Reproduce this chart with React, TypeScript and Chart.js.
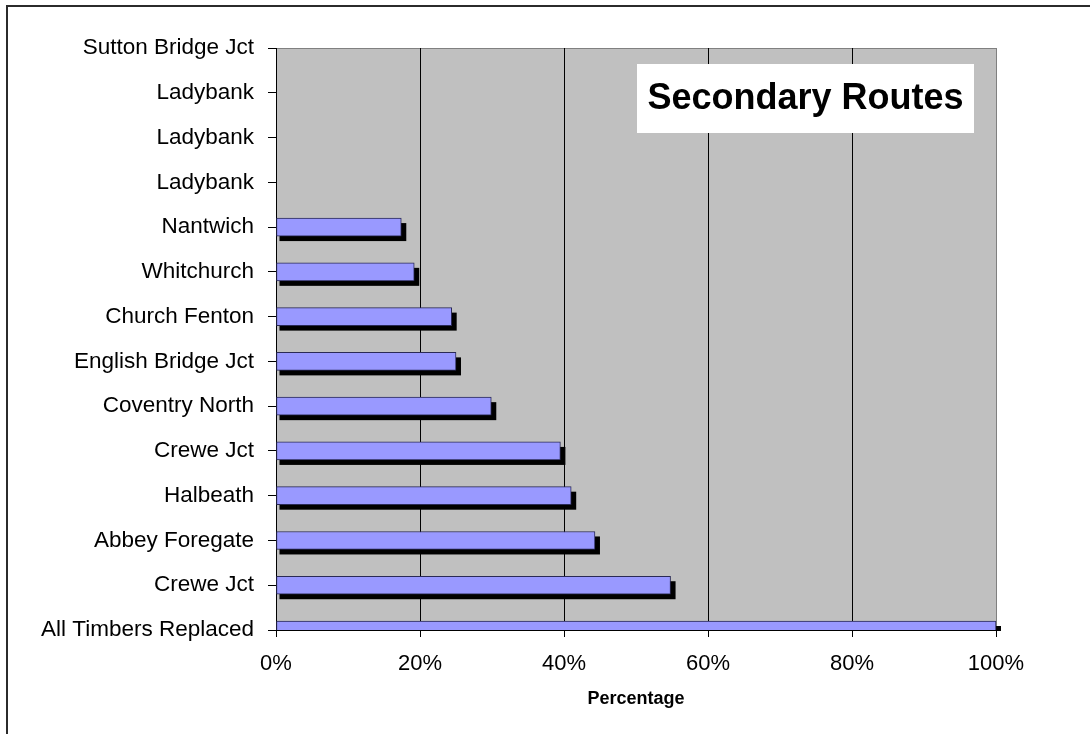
import React, { useEffect, useRef } from "react";
import { Chart, registerables } from "chart.js";

Chart.register(...registerables);

const categories = [
  "Sutton Bridge Jct",
  "Ladybank",
  "Ladybank",
  "Ladybank",
  "Nantwich",
  "Whitchurch",
  "Church Fenton",
  "English Bridge Jct",
  "Coventry North",
  "Crewe Jct",
  "Halbeath",
  "Abbey Foregate",
  "Crewe Jct",
  "All Timbers Replaced",
];
const percentages = [0, 0, 0, 0, 17.4, 19.2, 24.4, 25.0, 29.9, 39.5, 41.0, 44.3, 54.8, 100];
const xTicks = [0, 20, 40, 60, 80, 100];
const chartTitle = "Secondary Routes";
const xTitle = "Percentage";

const FONT = "'Liberation Sans', Arial, Helvetica, sans-serif";

const framePlugin = {
  id: "frame",
  beforeDraw(chart: any) {
    const { ctx, chartArea } = chart;
    ctx.save();
    ctx.fillStyle = "#ffffff";
    ctx.fillRect(0, 0, chart.width, chart.height);
    // outer border (top + left)
    ctx.fillStyle = "#2b2b2b";
    ctx.fillRect(6, 5, chart.width - 6, 2);
    ctx.fillRect(6, 5, 2, chart.height - 5);
    // plot area
    ctx.fillStyle = "#c0c0c0";
    ctx.fillRect(chartArea.left, chartArea.top, chartArea.right - chartArea.left, chartArea.bottom - chartArea.top);
    ctx.strokeStyle = "#808080";
    ctx.lineWidth = 1;
    ctx.strokeRect(chartArea.left + 0.5, chartArea.top + 0.5, chartArea.right - chartArea.left, chartArea.bottom - chartArea.top);
    ctx.restore();
  },
};

const shadowPlugin = {
  id: "barShadow",
  beforeDatasetsDraw(chart: any) {
    const { ctx, chartArea } = chart;
    const meta = chart.getDatasetMeta(0);
    ctx.save();
    ctx.beginPath();
    ctx.rect(chartArea.left, chartArea.top, chartArea.right - chartArea.left + 10, chartArea.bottom - chartArea.top + 1);
    ctx.clip();
    ctx.fillStyle = "#000000";
    meta.data.forEach((el: any, i: number) => {
      const v = percentages[i];
      if (!v) return;
      const { x, y, base, height } = el.getProps(["x", "y", "base", "height"], true);
      ctx.fillRect(base + 3, y - height / 2 + 5, x - base + 2, height);
    });
    ctx.restore();
  },
};

const titleBoxPlugin = {
  id: "titleBox",
  afterDatasetsDraw(chart: any) {
    const { ctx, chartArea } = chart;
    const w = 337;
    const h = 69;
    const x0 = chartArea.right - 22 - w;
    const y0 = chartArea.top + 16;
    ctx.save();
    ctx.fillStyle = "#ffffff";
    ctx.fillRect(x0, y0, w, h);
    ctx.fillStyle = "#000000";
    ctx.font = `bold 36px ${FONT}`;
    ctx.textAlign = "center";
    ctx.textBaseline = "middle";
    ctx.fillText(chartTitle, x0 + w / 2, y0 + h / 2 + 1);
    ctx.restore();
  },
};

export default function App() {
  const ref = useRef<HTMLCanvasElement | null>(null);

  useEffect(() => {
    if (!ref.current) return;
    const chart = new Chart(ref.current, {
      type: "bar",
      data: {
        labels: categories,
        datasets: [
          {
            data: percentages,
            backgroundColor: "#9999ff",
            borderColor: "#2a2a55",
            borderWidth: 1,
            borderSkipped: false,
            barThickness: 18,
            clip: { left: 0, top: 0, right: 10, bottom: 0 } as any,
          },
        ],
      },
      options: {
        indexAxis: "y",
        animation: false,
        responsive: false,
        events: [],
        layout: { padding: { left: 8, right: 94, top: 48, bottom: 0 } },
        plugins: {
          legend: { display: false },
          tooltip: { enabled: false },
          title: { display: false },
        },
        scales: {
          x: {
            type: "linear",
            min: 0,
            max: 100,
            afterBuildTicks: (scale: any) => {
              scale.ticks = xTicks.map((v) => ({ value: v }));
            },
            afterFit: (scale: any) => {
              scale.height = 104;
            },
            ticks: {
              callback: (v: any) => `${v}%`,
              color: "#000000",
              font: { family: FONT, size: 22 },
              padding: 14,
              maxRotation: 0,
            },
            grid: {
              color: (ctx: any) => (ctx.tick && ctx.tick.value === 100 ? "#808080" : "#000000"),
              tickColor: "#000000",
              tickLength: 7,
              lineWidth: 1,
            },
            border: { color: "#000000", width: 1 },
            title: {
              display: true,
              text: xTitle,
              color: "#000000",
              font: { family: FONT, size: 18, weight: "bold" },
              padding: { top: 4, bottom: 24 },
            },
          },
          y: {
            type: "category",
            offset: false,
            afterFit: (scale: any) => {
              scale.width = 268;
            },
            ticks: {
              color: "#000000",
              font: { family: FONT, size: 22.5 },
              padding: 14,
              autoSkip: false,
            },
            grid: {
              offset: false,
              drawOnChartArea: false,
              tickColor: "#000000",
              tickLength: 8,
            },
            border: { color: "#000000", width: 1 },
          },
        },
      },
      plugins: [framePlugin, shadowPlugin, titleBoxPlugin],
    });
    return () => chart.destroy();
  }, []);

  return (
    <div style={{ position: "fixed", left: 0, top: 0, width: 1090, height: 734 }}>
      <canvas ref={ref} width={1090} height={734} style={{ display: "block" }} />
    </div>
  );
}
